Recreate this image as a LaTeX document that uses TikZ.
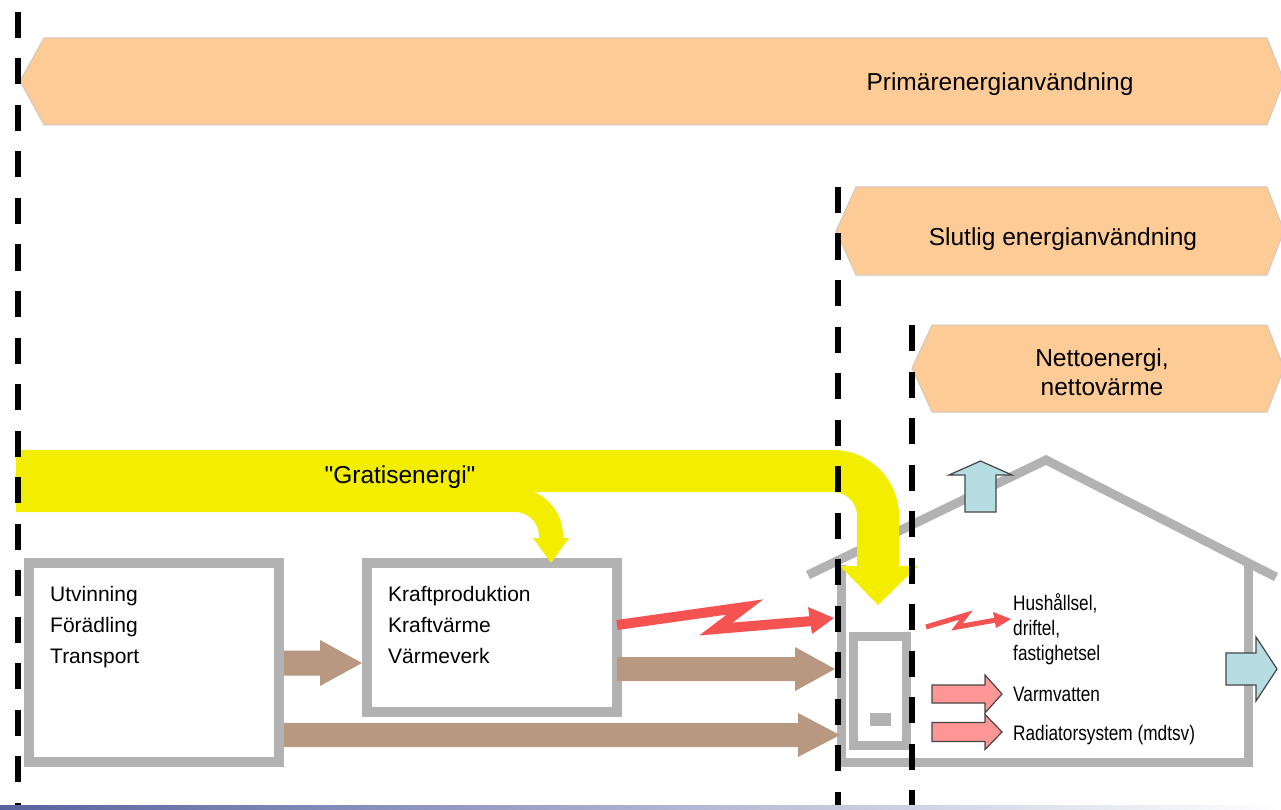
\documentclass[tikz,border=0pt]{standalone}
\usepackage{fontspec}
\setmainfont{Liberation Sans}[Ligatures=TeXOff]
\newfontfamily\narrowsans[FakeStretch=0.82, Ligatures=TeXOff]{Liberation Sans}
\usetikzlibrary{calc}
\definecolor{bannerfill}{RGB}{253,203,150}
\definecolor{bannerline}{RGB}{210,200,190}
\definecolor{yel}{RGB}{243,238,0}
\definecolor{boxgray}{RGB}{178,178,178}
\definecolor{brownarrow}{RGB}{184,152,128}
\definecolor{redarrow}{RGB}{245,82,82}
\definecolor{pinkarrow}{RGB}{255,150,150}
\definecolor{bluearrow}{RGB}{182,222,226}
\definecolor{darkoutline}{RGB}{70,70,70}
\definecolor{barblue}{RGB}{88,98,160}
% horizontal block arrow: [style]{x start}{x head}{x tip}{y centre}{half shaft}{half head}
\newcommand{\harrow}[7][]{%
  \path[#1] (#2,{#5-#6}) -- (#3,{#5-#6}) -- (#3,{#5-#7}) -- (#4,#5) -- (#3,{#5+#7}) -- (#3,{#5+#6}) -- (#2,{#5+#6}) -- cycle;}
% vertical (upward) block arrow: [style]{y start}{y head}{y tip}{x centre}{half shaft}{half head}
\newcommand{\varrow}[7][]{%
  \path[#1] ({#5-#6},#2) -- ({#5-#6},#3) -- ({#5-#7},#3) -- (#5,#4) -- ({#5+#7},#3) -- ({#5+#6},#3) -- ({#5+#6},#2) -- cycle;}
\tikzset{
  banner/.style={fill=bannerfill, draw=bannerline, line width=1pt},
  bannertext/.style={anchor=base, inner sep=0pt, font=\fontsize{24.5pt}{28pt}\selectfont},
  boxstyle/.style={draw=boxgray, line width=10pt, fill=white, inner sep=0pt, outer sep=0pt},
  boxtext/.style={anchor=base west, inner sep=0pt, font=\fontsize{21pt}{25pt}\selectfont},
  smalltext/.style={anchor=base west, inner sep=0pt, font=\narrowsans\fontsize{21pt}{25pt}\selectfont},
  brownfill/.style={fill=brownarrow},
  pinkfill/.style={fill=pinkarrow, draw=darkoutline, line width=1.2pt},
  bluefill/.style={fill=bluearrow, draw=darkoutline, line width=1.2pt},
  divider/.style={line width=6pt, dash pattern=on 26pt off 20.5pt},
  wall/.style={draw=boxgray, line width=9pt},
  redline/.style={draw=redarrow, line width=10pt, line join=miter},
}
\begin{document}
\begin{tikzpicture}[x=1pt, y=-1pt]
\useasboundingbox (0,0) rectangle (1281,810);
\fill[white] (0,0) rectangle (1281,810);

% banners
\path[banner] (20,81) -- (44,38) -- (1267,38) -- (1284,81) -- (1267,125) -- (44,125) -- cycle;
\path[banner] (836,231) -- (856,187) -- (1267,187) -- (1284,231) -- (1267,275) -- (856,275) -- cycle;
\path[banner] (912,368) -- (932,325) -- (1267,325) -- (1284,368) -- (1267,412) -- (932,412) -- cycle;
\node[bannertext] (prim) at (1000,91) {Primärenergianvändning};
\node[bannertext] (slut) at (1063,245) {Slutlig energianvändning};
\node[bannertext] (netto1) at (1102,366) {Nettoenergi,};
\node[bannertext] (netto2) at (1102,395) {nettovärme};

% house
\draw[wall] (808,575) -- (1046,460) -- (1276,577);
\draw[wall] (841,565) -- (841,762) -- (1248,762) -- (1248,566);
\node[boxstyle, line width=9pt, minimum width=53pt, minimum height=109pt] (boiler) at (880,691) {};
\node[fill=boxgray, inner sep=0pt, minimum width=21pt, minimum height=13pt] (boilersq) at (880.5,719.5) {};

% boxes
\node[boxstyle, minimum width=250pt, minimum height=199pt] (utv) at (154,662.5) {};
\node[boxstyle, minimum width=250pt, minimum height=149pt] (kraft) at (492,637.5) {};
\node[boxtext] (t1) at (50,601) {Utvinning};
\node[boxtext] (t2) at (50,632) {Förädling};
\node[boxtext] (t3) at (50,663) {Transport};
\node[boxtext] (k1) at (388,601) {Kraftproduktion};
\node[boxtext] (k2) at (388,632) {Kraftvärme};
\node[boxtext] (k3) at (388,663) {Värmeverk};

% brown flows
\harrow[brownfill]{284}{320}{362}{663}{12.5}{23}
\harrow[brownfill]{617}{795}{835}{669}{12}{22}
\harrow[brownfill]{284}{798}{840}{735}{12}{22}

% red electricity
\draw[redline] (617,625) -- (745,607) -- (716,629) -- (812,621);
\fill[redarrow] (808,607) -- (834,618) -- (812,634) -- cycle;
\draw[redline, line width=5pt] (926,627) -- (966,615) -- (957,627) -- (996,620);
\fill[redarrow] (993,612) -- (1011,619) -- (996,628) -- cycle;

% pink and blue
\harrow[pinkfill]{932}{985}{1002}{694}{9}{19}
\harrow[pinkfill]{932}{985}{1002}{732}{9.5}{17.5}
\harrow[bluefill]{1226}{1256}{1277}{669}{16}{32}
\varrow[bluefill]{512}{475}{461}{980.5}{15.5}{31.5}

% free energy (yellow)
\draw[yel, line width=24pt, rounded corners=36pt] (16,500) -- (551,500) -- (551,540);
\fill[yel] (533,538) -- (569,538) -- (551,563) -- cycle;
\draw[yel, line width=42pt, rounded corners=45pt] (16,471) -- (878,471) -- (878,568);
\fill[yel] (840,566) -- (918,566) -- (878,605) -- cycle;
\node[anchor=base, inner sep=0pt, font=\fontsize{24.5pt}{28pt}\selectfont] (gratis) at (400,483) {"Gratisenergi"};

% small labels
\node[smalltext] (h1) at (1013,610) {Hushållsel,};
\node[smalltext] (h2) at (1013,635) {driftel,};
\node[smalltext] (h3) at (1013,660) {fastighetsel};
\node[smalltext] (vv) at (1013,701) {Varmvatten};
\node[smalltext] (rad) at (1013,740) {Radiatorsystem (mdtsv)};

% dividers
\draw[divider] (18,12) -- (18,810);
\draw[divider] (838,187) -- (838,810);
\draw[divider] (912,325) -- (912,810);

% bottom bar
\shade[left color=barblue, right color=white] (0,805) rectangle (1281,810);
\end{tikzpicture}
\end{document}
